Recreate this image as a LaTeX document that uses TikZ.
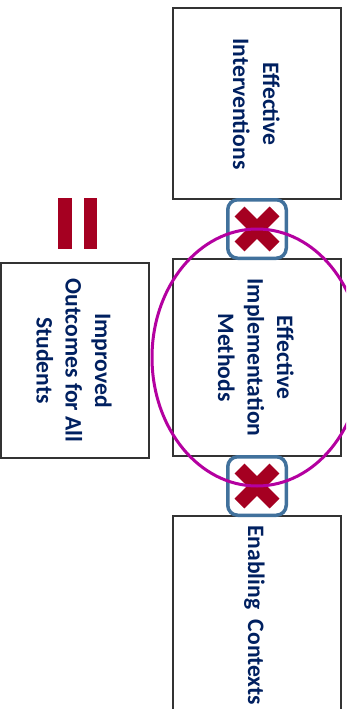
\documentclass[tikz,border=0pt]{standalone}
\usepackage{fontspec}
\setmainfont{Carlito}
\definecolor{navy}{RGB}{0,32,96}
\definecolor{crimson}{RGB}{165,0,33}
\definecolor{steel}{RGB}{65,113,156}
\definecolor{orchid}{RGB}{180,0,160}
\begin{document}
\begin{tikzpicture}[x=1pt,y=-1pt,
  panel/.style={draw=black!80, line width=1.1pt, fill=white, inner sep=0pt},
  label/.style={rotate=-90, anchor=base, inner sep=0pt, text=navy,
    font=\bfseries\fontsize{23.6}{29}\selectfont},
  badge/.style={draw=steel, line width=3.5pt, fill=white, rounded corners=10pt,
    inner sep=0pt, minimum size=58.5pt},
  cross/.style={draw=crimson, line width=14pt, line cap=butt},
  ring/.style={draw=orchid, line width=3pt}]

\useasboundingbox (0,0) rectangle (346,709);
\clip (0,0) rectangle (346,709);
\fill[white] (0,0) rectangle (346,709);

% the four panels
\node[panel, minimum width=168pt, minimum height=191pt] (interv) at (257,103.5) {};
\node[panel, minimum width=168pt, minimum height=197pt] (impl) at (257,357.5) {};
\node[panel, minimum width=168pt, minimum height=208pt] (ctx) at (257,620) {};
\node[panel, minimum width=148pt, minimum height=195pt] (outc) at (75,360.5) {};

% equals sign
\fill[crimson] (58,198) rectangle (72,249);
\fill[crimson] (84,198) rectangle (97,249);

% crossed-out joints between the panels
\node[badge] (jtop) at (257,229) {};
\node[badge] (jbot) at (257,486) {};
\foreach \j in {jtop,jbot}{
  \draw[cross] (\j.center) +(-17.5,-17.5) -- +(17.5,17.5);
  \draw[cross] (\j.center) +(-17.5,17.5) -- +(17.5,-17.5);
}

% highlight around the middle panel
\draw[ring] (impl.center) ellipse [x radius=105, y radius=128.5];

% panel labels
\node[label] (t1a) at (263,104) {Effective};
\node[label] (t1b) at (233,104) {Interventions};
\node[label] (t2a) at (277,357.5) {Effective};
\node[label] (t2b) at (247.5,357.5) {Implementation};
\node[label] (t2c) at (218,357.5) {Methods};
\node[label, anchor=base west] (t3) at (248,525) {Enabling\ \ Contexts};
\node[label] (t4a) at (95,360.5) {Improved};
\node[label] (t4b) at (65.5,360.5) {Outcomes for All};
\node[label] (t4c) at (36.5,360.5) {Students};
\end{tikzpicture}
\end{document}
